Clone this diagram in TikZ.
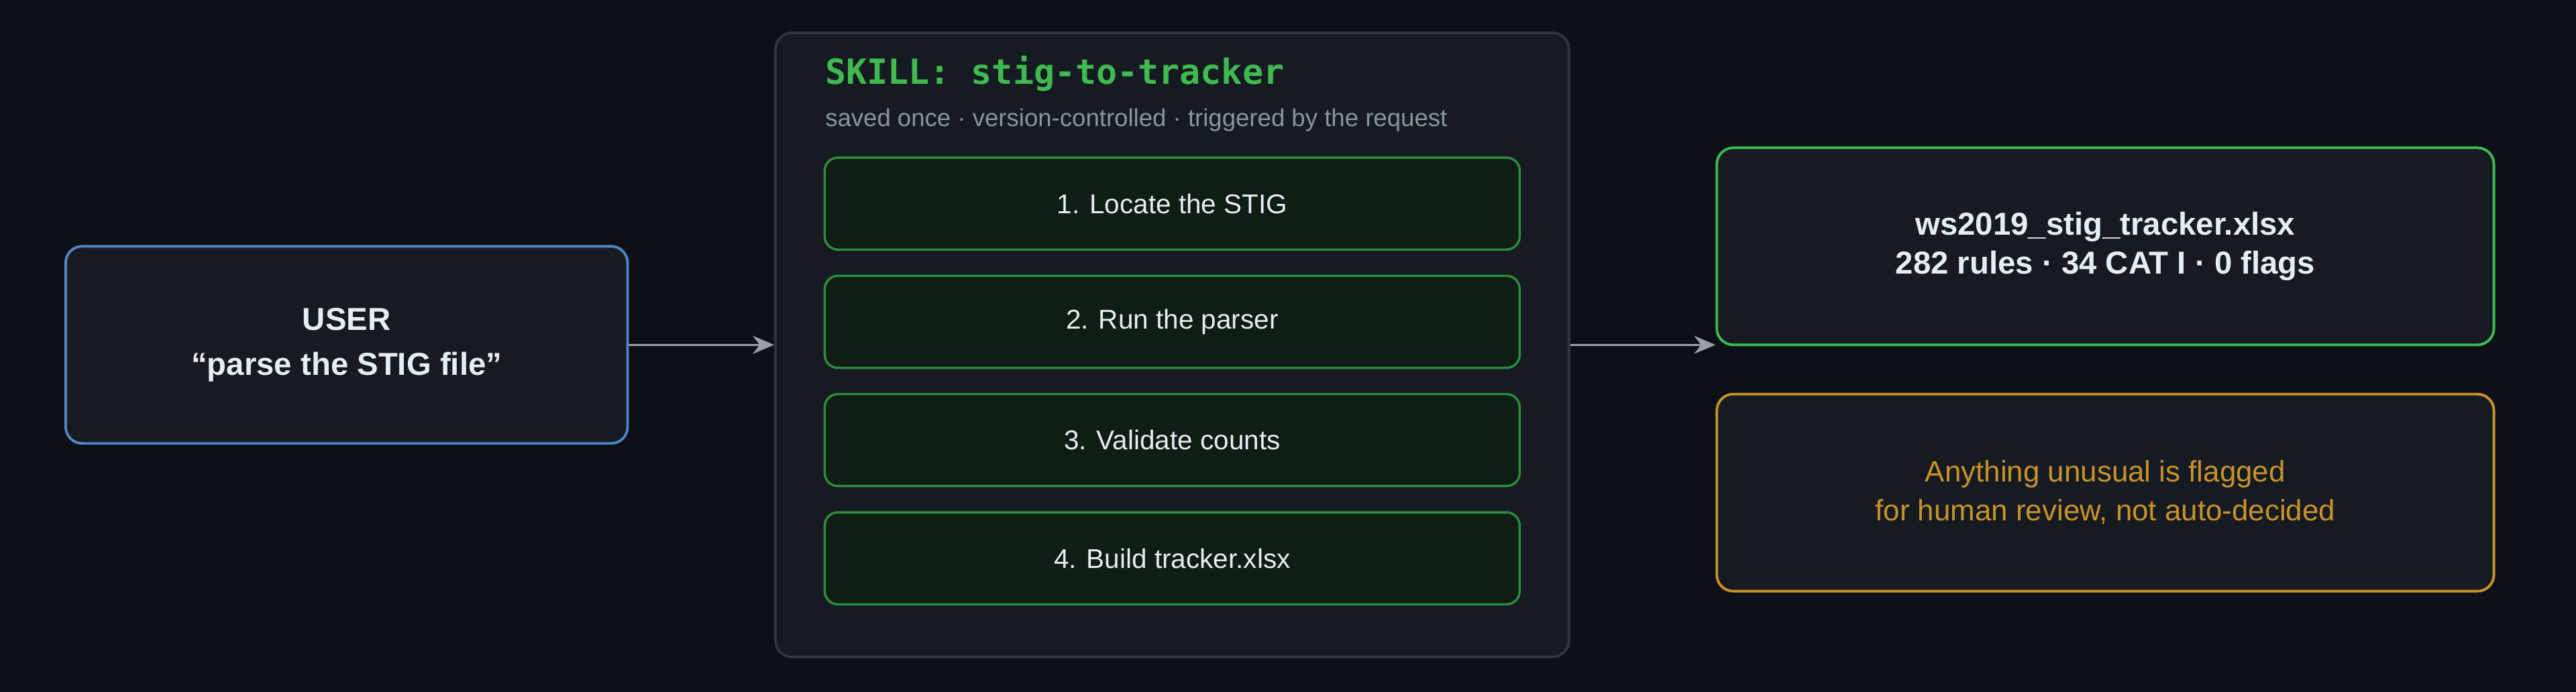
\documentclass[tikz,border=0pt]{standalone}
\usepackage{fontspec}
\setmainfont{Liberation Sans}
\setmonofont{DejaVu Sans Mono}
\usetikzlibrary{arrows.meta}
\definecolor{bg}{HTML}{0D1117}
\definecolor{panel}{HTML}{161B22}
\definecolor{edge}{HTML}{30363D}
\definecolor{userblue}{HTML}{4F86C6}
\definecolor{okgreen}{HTML}{3FB950}
\definecolor{stepedge}{HTML}{2E8B3E}
\definecolor{stepfill}{HTML}{0F1D14}
\definecolor{warn}{HTML}{C8922A}
\definecolor{txt}{HTML}{E6EDF3}
\definecolor{muted}{HTML}{8B949E}
\definecolor{arr}{HTML}{9AA0A8}
\tikzset{
  box/.style={draw, line width=0.9pt, rounded corners=2mm, fill=panel, align=center, text=txt, font=\fontsize{11}{13.5}\selectfont\bfseries},
  stage/.style={draw=stepedge, line width=0.8pt, rounded corners=1.6mm, fill=stepfill, text=txt, minimum width=84.6mm, minimum height=11.2mm, font=\fontsize{9.4}{11}\selectfont},
  link/.style={draw=arr, line width=0.8pt, -{Stealth[length=2.6mm,width=2.2mm]}}
}
\begin{document}
\begin{tikzpicture}[x=0.2mm,y=-0.2mm]
\useasboundingbox (0,0) rectangle (1568,421);
\fill[bg, overlay] (-2,-2) rectangle (1570,423);

% user request
\node[box, draw=userblue, minimum width=68.4mm, minimum height=24mm, font=\fontsize{11}{15.5}\selectfont\bfseries] (user) at (211,210) {USER\\``parse the STIG file''};

% skill container
\node[draw=edge, line width=0.9pt, rounded corners=2mm, fill=panel, minimum width=96.6mm, minimum height=76mm] (skill) at (713.5,210) {};
\node[anchor=west, inner sep=0pt, text=okgreen, font=\fontsize{12}{14}\selectfont\ttfamily\bfseries] (title) at (502,45) {SKILL: stig-to-tracker};
\node[anchor=west, inner sep=0pt, text=muted, font=\fontsize{8.5}{10}\selectfont] (sub) at (502,73) {saved once · version-controlled · triggered by the request};

% steps
\node[stage] (s1) at (713.5,124) {1. Locate the STIG};
\node[stage] (s2) at (713.5,196) {2. Run the parser};
\node[stage] (s3) at (713.5,268) {3. Validate counts};
\node[stage] (s4) at (713.5,340) {4. Build tracker.xlsx};

% outputs
\node[box, draw=okgreen, minimum width=94.6mm, minimum height=24mm] (out) at (1281.5,150) {ws2019\_stig\_tracker.xlsx\\282 rules · 34 CAT I · 0 flags};
\node[box, draw=warn, text=warn, minimum width=94.6mm, minimum height=24mm, font=\fontsize{10.2}{13.5}\selectfont] (flag) at (1281.5,300) {Anything unusual is flagged\\for human review, not auto-decided};

% connectors
\coordinate (outin) at (out.west |- 0,210);
\draw[link] (user.east) -- (skill.west |- user.east);
\draw[link] (skill.east |- outin) -- (outin);
\end{tikzpicture}
\end{document}
